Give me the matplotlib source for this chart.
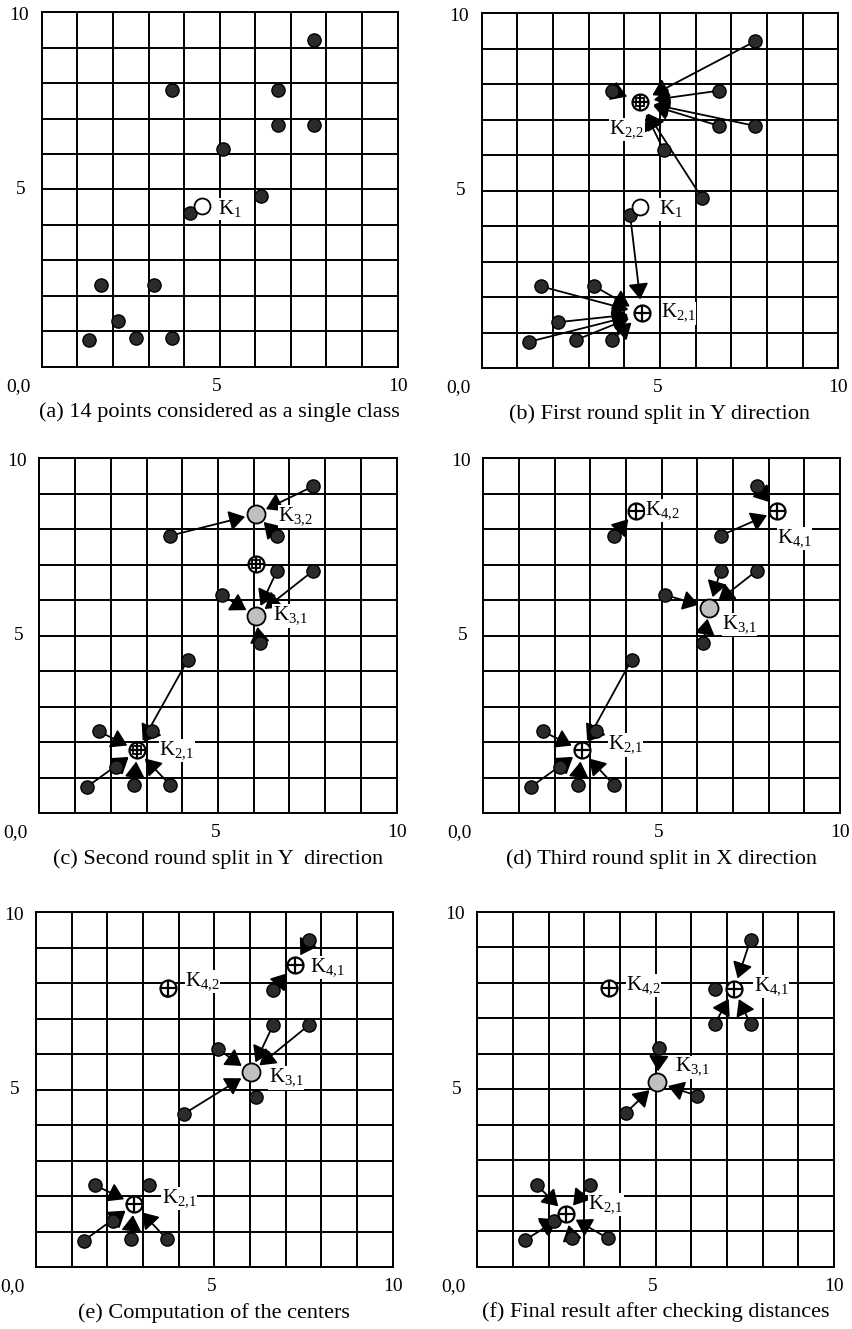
import matplotlib
matplotlib.use("Agg")
import matplotlib.pyplot as plt

plt.rcParams["font.family"] = "Liberation Serif"
plt.rcParams["mathtext.fontset"] = "custom"
plt.rcParams["mathtext.rm"] = "Liberation Serif"

# the 14 sample points (same in every panel)
px = [7.66, 3.66, 6.65, 6.65, 7.66, 5.10, 6.17, 4.16, 1.66, 3.16, 2.15, 1.34, 2.65, 3.66]
py = [9.21, 7.82, 7.82, 6.83, 6.83, 6.15, 4.81, 4.33, 2.31, 2.31, 1.30, 0.75, 0.80, 0.80]

captions = [
    "(a) 14 points considered as a single class",
    "(b) First round split in Y direction",
    "(c) Second round split in Y  direction",
    "(d) Third round split in X direction",
    "(e) Computation of the centers",
    "(f) Final result after checking distances",
]

# centers per panel: (name, x, y, style)  style: open / plus / box / gray
centers = [
    [("1", 4.49, 4.53, "open")],
    [("1", 4.44, 4.55, "open"), ("2{,}2", 4.44, 7.51, "box"), ("2{,}1", 4.49, 1.55, "plus")],
    [("3{,}2", 6.06, 8.43, "gray"), ("3{,}1", 6.06, 5.56, "gray"), ("", 6.06, 7.02, "box"),
     ("2{,}1", 2.74, 1.77, "box")],
    [("4{,}2", 4.27, 8.52, "plus"), ("4{,}1", 8.24, 8.52, "plus"), ("3{,}1", 6.34, 5.79, "gray"),
     ("2{,}1", 2.76, 1.77, "plus")],
    [("4{,}2", 3.71, 7.86, "plus"), ("4{,}1", 7.25, 8.52, "plus"), ("3{,}1", 6.02, 5.49, "gray"),
     ("2{,}1", 2.75, 1.78, "plus")],
    [("4{,}2", 3.70, 7.84, "plus"), ("4{,}1", 7.20, 7.82, "plus"), ("3{,}1", 5.05, 5.19, "gray"),
     ("2{,}1", 2.49, 1.48, "plus")],
]

# which points send an arrow to which center (center index -> point indices)
arrows = [
    {},
    {1: [0, 1, 2, 3, 4, 5, 6], 2: [7, 8, 9, 10, 11, 12, 13]},
    {0: [0, 1, 2], 1: [3, 4, 5, 6], 3: [7, 8, 9, 10, 11, 12, 13]},
    {0: [1], 1: [0, 2], 2: [3, 4, 5, 6], 3: [7, 8, 9, 10, 11, 12, 13]},
    {1: [0, 2], 2: [3, 4, 5, 7], 3: [8, 10, 11, 12, 13]},
    {1: [0, 3, 4], 2: [5, 6, 7], 3: [8, 9, 10, 11, 12, 13]},
]
shrink = [8, 10, 8, 8, 8, 8]

# label offsets (points) for each center
label_off = [
    [(12, -2)],
    [(14, -2), (-22, -20), (14, 0)],
    [(16, -2), (12, 0), (0, 0), (16, 0)],
    [(7, 0), (0, -20), (9, -12), (19, 4)],
    [(12, 5), (11, -2), (13, -4), (20, 4)],
    [(12, 2), (14, 2), (13, 11), (16, 7)],
]

# axes rectangles in pixels (left, top, right, bottom)
rects = [
    (41.7, 12.3, 397.7, 366.7), (481.7, 13.3, 838.3, 368.3),
    (39.3, 458.3, 396.7, 813.3), (483.3, 458.3, 840.0, 813.3),
    (36.0, 912.3, 392.7, 1267.3), (477.3, 911.7, 834.0, 1266.7),
]

W, H = 853, 1329
fig = plt.figure(figsize=(W / 100, H / 100), dpi=100)

for i in range(6):
    l, t, r, b = rects[i]
    ax = fig.add_axes([l / W, 1 - b / H, (r - l) / W, (b - t) / H])
    ax.set_xlim(0, 10)
    ax.set_ylim(0, 10)
    ax.set_xticks(range(11))
    ax.set_yticks(range(11))
    ax.tick_params(length=0, labelbottom=False, labelleft=False)
    ax.grid(True, color="black", linewidth=1.4)
    ax.set_axisbelow(True)
    for s in ax.spines.values():
        s.set_linewidth(1.4)

    # axis annotations
    kw = dict(textcoords="offset points", fontsize=14, ha="center", va="center",
              annotation_clip=False)
    ax.annotate("10", xy=(0, 10), xytext=(-16, -2), **kw)
    ax.annotate("5", xy=(0, 5), xytext=(-15, 0), **kw)
    ax.annotate("0,0", xy=(0, 0), xytext=(-17, -14), **kw)
    ax.annotate("5", xy=(5, 0), xytext=(-2, -14), **kw)
    ax.annotate("10", xy=(10, 0), xytext=(0, -14), **kw)
    ax.annotate(captions[i], xy=(5, 0), xytext=(0, -33), textcoords="offset points",
                fontsize=16, ha="center", va="center", annotation_clip=False)

    # arrows
    for ci, pts in arrows[i].items():
        cx, cy = centers[i][ci][1], centers[i][ci][2]
        for p in pts:
            ax.annotate("", xy=(cx, cy), xytext=(px[p], py[p]),
                        arrowprops=dict(arrowstyle="-|>,head_length=0.6,head_width=0.38",
                                        color="black", lw=1.3, shrinkA=0, shrinkB=shrink[i],
                                        mutation_scale=16), zorder=3)

    ax.plot(px, py, "o", ms=9.5, mfc="#2b2b2b", mec="black", mew=1.0, zorder=4)

    for (name, cx, cy, style), off in zip(centers[i], label_off[i]):
        if style == "open":
            ax.plot(cx, cy, "o", ms=11.5, mfc="white", mec="black", mew=1.3, zorder=5)
        elif style == "gray":
            ax.plot(cx, cy, "o", ms=13, mfc="#c0c0c0", mec="black", mew=1.3, zorder=5)
        else:
            ax.plot(cx, cy, "o", ms=11.5, mfc="white", mec="black", mew=1.6, zorder=5)
            if style == "box":
                ax.plot(cx, cy, "s", ms=6, mfc="white", mec="black", mew=1.3, zorder=6)
            ax.plot(cx, cy, "+", ms=11.5, mec="black", mew=1.6, zorder=7)
        if name:
            ax.annotate("K$_{\\rm " + name + "}$", xy=(cx, cy), xytext=off,
                        textcoords="offset points", fontsize=15, ha="left", va="center",
                        bbox=dict(fc="white", ec="none", pad=0.3), zorder=8)

fig.savefig("out.png", dpi=100)
